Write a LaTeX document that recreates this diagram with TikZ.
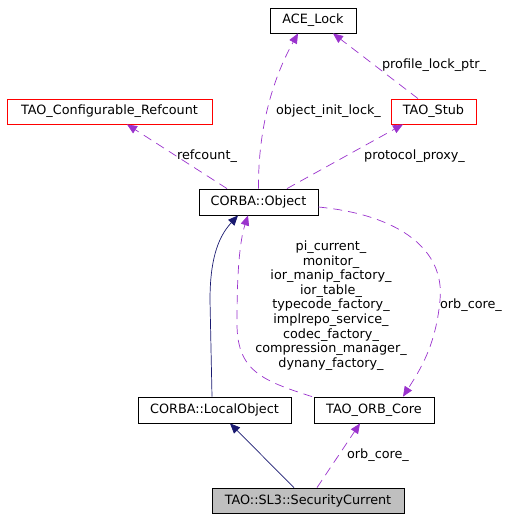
\documentclass[tikz,border=0pt]{standalone}
\usepackage{fontspec}
\setmainfont{DejaVu Sans}
\usetikzlibrary{arrows.meta}
\definecolor{edgepurple}{HTML}{9A32CD}
\definecolor{edgenavy}{HTML}{191970}
\definecolor{nodegray}{HTML}{BFBFBF}
\tikzset{
  box/.style={draw=black, line width=0.8bp, inner sep=0pt, minimum height=25bp, font=\fontsize{12.8bp}{14.6bp}\selectfont},
  redbox/.style={box, draw=red},
  usage/.style={draw=edgepurple, line width=0.7bp, dash pattern=on 9bp off 6bp, -{Triangle[length=10bp,width=8.5bp,fill=edgepurple]}},
  inherit/.style={draw=edgenavy, line width=0.7bp, -{Triangle[length=10bp,width=8.5bp,fill=edgenavy]}},
  lbl/.style={font=\fontsize{12.8bp}{14.6bp}\selectfont, inner sep=0pt, align=center}
}
\begin{document}
\begin{tikzpicture}[x=1bp,y=-1bp]
\useasboundingbox (0,0) rectangle (515,520);
\node[box, minimum width=86bp] (lock) at (313,20.5) {ACE\_Lock};
\node[redbox, minimum width=85bp] (stub) at (433.5,111.5) {TAO\_Stub};
\node[redbox, minimum width=205bp] (refc) at (109.5,111.5) {TAO\_Configurable\_Refcount};
\node[box, minimum width=119bp, minimum height=26bp] (obj) at (258.5,202) {CORBA::Object};
\node[box, minimum width=153bp, minimum height=26bp] (local) at (214.5,410) {CORBA::LocalObject};
\node[box, minimum width=120bp, minimum height=26bp] (core) at (374,410) {TAO\_ORB\_Core};
\node[box, fill=nodegray, minimum width=192bp] (sec) at (308,500.5) {TAO::SL3::SecurityCurrent};

% usage edges
\draw[usage] (obj.north) .. controls (258,130) and (272,80) .. ([xshift=-15bp]lock.south);
\draw[usage] ([xshift=-15.5bp]stub.north) -- ([xshift=20bp]lock.south);
\draw[usage] ([xshift=28.5bp]obj.north) -- ([xshift=-30.5bp]stub.south);
\draw[usage] ([xshift=-31.5bp]obj.north) -- ([xshift=17.5bp]refc.south);
\draw[usage] ([yshift=-5bp]obj.east) .. controls (400,215) and (445,250) .. (440,300) .. controls (436,345) and (420,370) .. ([xshift=29bp]core.north);
\draw[usage] ([xshift=-62bp]core.north) .. controls (260,380) and (236,370) .. (237,320) .. controls (237,270) and (240,240) .. ([xshift=-10.5bp]obj.south);
\draw[usage] ([xshift=9bp]sec.north) -- ([xshift=-14bp]core.south);

% inheritance edges
\draw[inherit] ([xshift=-2.5bp]local.north) -- (210,300) .. controls (210,255) and (220,235) .. ([xshift=-20.5bp]obj.south);
\draw[inherit] ([xshift=-14bp]sec.north) -- ([xshift=15.5bp]local.south);

% labels
\node[lbl] (l1) at (328.5,111) {object\_init\_lock\_};
\node[lbl] (l2) at (434,65) {profile\_lock\_ptr\_};
\node[lbl] (l3) at (414.5,156) {protocol\_proxy\_};
\node[lbl] (l4) at (207,156) {refcount\_};
\node[lbl] (l5) at (471,305) {orb\_core\_};
\node[lbl] (l6) at (331,305.5) {pi\_current\_\\monitor\_\\ior\_manip\_factory\_\\ior\_table\_\\typecode\_factory\_\\implrepo\_service\_\\codec\_factory\_\\compression\_manager\_\\dynany\_factory\_};
\node[lbl] (l7) at (378,455) {orb\_core\_};
\end{tikzpicture}
\end{document}
